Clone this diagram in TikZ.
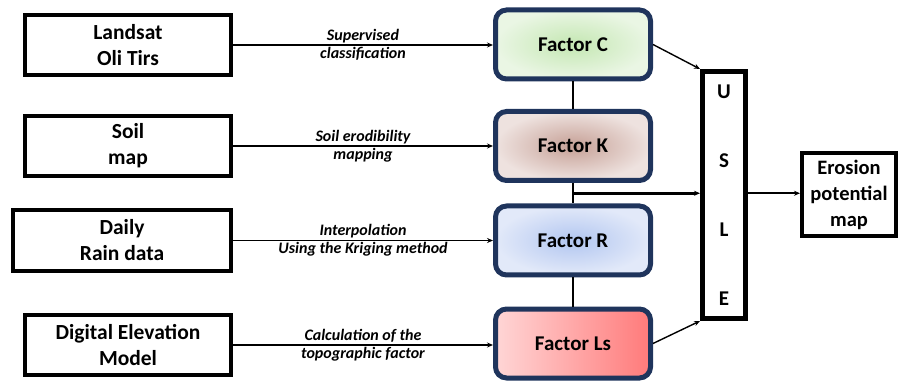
\documentclass[tikz,border=0pt]{standalone}
\usepackage{fontspec}
\setmainfont{Carlito}
\usetikzlibrary{arrows.meta, positioning, calc}
\definecolor{factorNavy}{RGB}{31,52,92}
\definecolor{cInner}{RGB}{196,231,178}
\definecolor{cOuter}{RGB}{234,246,228}
\definecolor{kInner}{RGB}{198,160,150}
\definecolor{kOuter}{RGB}{238,226,223}
\definecolor{rInner}{RGB}{178,198,240}
\definecolor{rOuter}{RGB}{226,233,249}
\definecolor{lsLeft}{RGB}{255,214,214}
\definecolor{lsRight}{RGB}{255,122,122}

\begin{document}
\begin{tikzpicture}[
    x=1pt, y=-1pt,
    source/.style={rectangle, draw, line width=4pt, minimum width=206pt, minimum height=60pt, align=center, inner sep=2pt, font=\bfseries\fontsize{21.5}{26}\selectfont},
    factor/.style={rectangle, draw=factorNavy, line width=5pt, rounded corners=11pt, minimum width=155pt, minimum height=69pt, font=\bfseries\fontsize{21}{24}\selectfont},
    link/.style={-{Stealth[length=6pt, width=5pt]}, line width=1.4pt},
    proc/.style={font=\bfseries\itshape\fontsize{16}{18}\selectfont, inner sep=1.5pt},
    joint/.style={line width=2pt}
]
\useasboundingbox (0,0) rectangle (908,382);

% data sources
\node[source] (landsat) at (128,45) {Landsat\\Oli Tirs};
\node[source] (soil) at (128,146) {Soil\\map};
\node[source, minimum width=218pt, minimum height=61pt] (rain) at (122,240.5) {Daily\\Rain data};
\node[source] (dem) at (128,345) {Digital Elevation\\Model};

% factors
\node[factor, shading=radial, inner color=cInner, outer color=cOuter] (fc) at (573,44.5) {Factor C};
\node[factor, shading=radial, inner color=kInner, outer color=kOuter] (fk) at (573,146) {Factor K};
\node[factor, shading=radial, inner color=rInner, outer color=rOuter] (fr) at (573,240.5) {Factor R};
\node[factor, left color=lsLeft, right color=lsRight] (fls) at (573,343.5) {Factor Ls};

% model and result
\node[rectangle, draw, line width=5pt, minimum width=43pt, minimum height=247pt, align=center, font=\bfseries\fontsize{21}{69}\selectfont] (usle) at (724,195) {U\\S\\L\\E};
\node[rectangle, draw, line width=4pt, minimum width=94pt, minimum height=83pt, align=center, inner sep=1pt, font=\bfseries\fontsize{20.5}{26}\selectfont] (erosion) at (849,194.5) {Erosion\\potential\\map};

\draw[link] (landsat.east) -- (landsat.east -| fc.west)
    node[proc, midway, above] {Supervised}
    node[proc, midway, below] {classification};
\draw[link] (soil.east) -- (soil.east -| fk.west)
    node[proc, midway, above] {Soil erodibility}
    node[proc, midway, below] {mapping};
\draw[link] (rain.east) -- (rain.east -| fr.west)
    node[proc, midway, above] {Interpolation}
    node[proc, midway, below] {Using the Kriging method};
\draw[link] (dem.east) -- (dem.east -| fls.west)
    node[proc, midway, above] {Calculation of the}
    node[proc, midway, below] {topographic factor};

% chain of factors
\draw[joint] (fc.south) -- (fk.north);
\draw[joint] (fk.south) -- (fr.north);
\draw[joint] (fr.south) -- (fls.north);
\coordinate (kr) at ($(fk.south)!0.5!(fr.north)$);

\draw[link] (fc.east) -- (usle.north west);
\draw[link] (fls.east) -- (usle.south west);
\draw[link, line width=2.6pt] (kr) -- (kr -| usle.west);
\draw[link, line width=2.2pt] (usle.east |- kr) -- (kr -| erosion.west);

\end{tikzpicture}
\end{document}
